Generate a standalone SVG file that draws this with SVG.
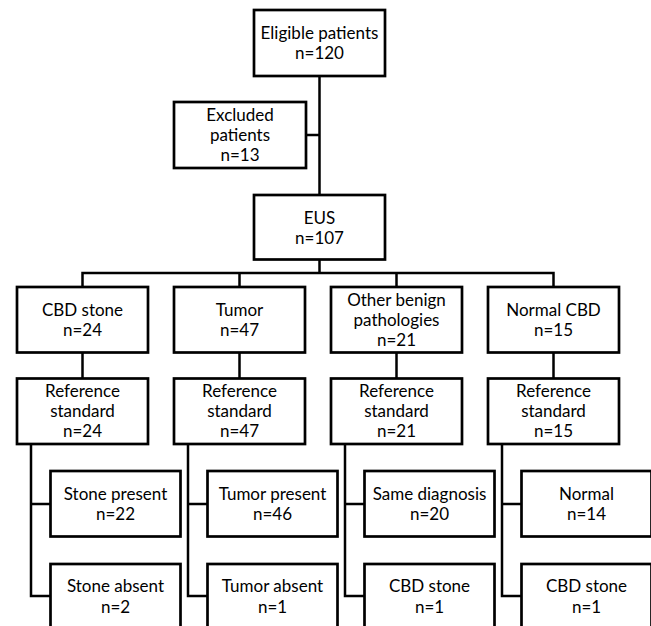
<svg xmlns="http://www.w3.org/2000/svg" width="651" height="626" viewBox="0 0 651 626">
<style>
.box{fill:#fff;stroke:#000;stroke-width:2.7;stroke-linejoin:miter}
.ln{fill:none;stroke:#000;stroke-width:2.5;stroke-linejoin:miter}
text{font-family:Lato,"Open Sans",sans-serif;font-size:17px;fill:#000;text-anchor:middle}
</style>
<rect width="651" height="626" fill="#fff"/>
<g id="connectors">
<path class="ln" d="M319.5 76V195M306 135H319.5M319.5 259.5V273M82.5 287V273H553.5V287M239.5 273V287M396.5 273V287"/>
<path class="ln" d="M82.5 352.5V378.5M239.5 352.5V378.5M396.5 352.5V378.5M553.5 352.5V378.5"/>
<path class="ln" d="M31 444V596H50.5M31 504H50.5M188 444V596H207.5M188 504H207.5M345 444V596H364.5M345 504H364.5M502 444V596H521.5M502 504H521.5"/>
</g>
<g id="eligible"><rect class="box" x="254" y="10" width="131" height="66"/><text x="319.5" y="39">Eligible patients</text><text x="319.5" y="59">n=120</text></g>
<g id="excluded"><rect class="box" x="174" y="102" width="132" height="66"/><text x="240" y="121">Excluded</text><text x="240" y="141">patients</text><text x="240" y="161">n=13</text></g>
<g id="eus"><rect class="box" x="254" y="195" width="131" height="64.5"/><text x="319.5" y="224">EUS</text><text x="319.5" y="244">n=107</text></g>
<g id="cbd"><rect class="box" x="17" y="287" width="131" height="65.5"/><text x="82.5" y="316">CBD stone</text><text x="82.5" y="336">n=24</text></g>
<g id="tumor"><rect class="box" x="174" y="287" width="131" height="65.5"/><text x="239.5" y="316">Tumor</text><text x="239.5" y="336">n=47</text></g>
<g id="other"><rect class="box" x="331" y="287" width="131" height="65.5"/><text x="396.5" y="306">Other benign</text><text x="396.5" y="326">pathologies</text><text x="396.5" y="346">n=21</text></g>
<g id="normalcbd"><rect class="box" x="488" y="287" width="131" height="65.5"/><text x="553.5" y="316">Normal CBD</text><text x="553.5" y="336">n=15</text></g>
<g id="ref1"><rect class="box" x="17" y="378.5" width="131" height="65.5"/><text x="82.5" y="397">Reference</text><text x="82.5" y="417">standard</text><text x="82.5" y="437">n=24</text></g>
<g id="ref2"><rect class="box" x="174" y="378.5" width="131" height="65.5"/><text x="239.5" y="397">Reference</text><text x="239.5" y="417">standard</text><text x="239.5" y="437">n=47</text></g>
<g id="ref3"><rect class="box" x="331" y="378.5" width="131" height="65.5"/><text x="396.5" y="397">Reference</text><text x="396.5" y="417">standard</text><text x="396.5" y="437">n=21</text></g>
<g id="ref4"><rect class="box" x="488" y="378.5" width="131" height="65.5"/><text x="553.5" y="397">Reference</text><text x="553.5" y="417">standard</text><text x="553.5" y="437">n=15</text></g>
<g id="stonepresent"><rect class="box" x="50.5" y="471" width="130" height="65.5"/><text x="115.5" y="500">Stone present</text><text x="115.5" y="520">n=22</text></g>
<g id="tumorpresent"><rect class="box" x="207.5" y="471" width="130" height="65.5"/><text x="272.5" y="500">Tumor present</text><text x="272.5" y="520">n=46</text></g>
<g id="samediag"><rect class="box" x="364.5" y="471" width="130" height="65.5"/><text x="429.5" y="500">Same diagnosis</text><text x="429.5" y="520">n=20</text></g>
<g id="normal"><rect class="box" x="521.5" y="471" width="130" height="65.5"/><text x="586.5" y="500">Normal</text><text x="586.5" y="520">n=14</text></g>
<g id="stoneabsent"><rect class="box" x="50.5" y="564" width="130" height="65.5"/><text x="115.5" y="592">Stone absent</text><text x="115.5" y="613">n=2</text></g>
<g id="tumorabsent"><rect class="box" x="207.5" y="564" width="130" height="65.5"/><text x="272.5" y="592">Tumor absent</text><text x="272.5" y="613">n=1</text></g>
<g id="cbd3"><rect class="box" x="364.5" y="564" width="130" height="65.5"/><text x="429.5" y="592">CBD stone</text><text x="429.5" y="613">n=1</text></g>
<g id="cbd4"><rect class="box" x="521.5" y="564" width="130" height="65.5"/><text x="586.5" y="592">CBD stone</text><text x="586.5" y="613">n=1</text></g>
</svg>
